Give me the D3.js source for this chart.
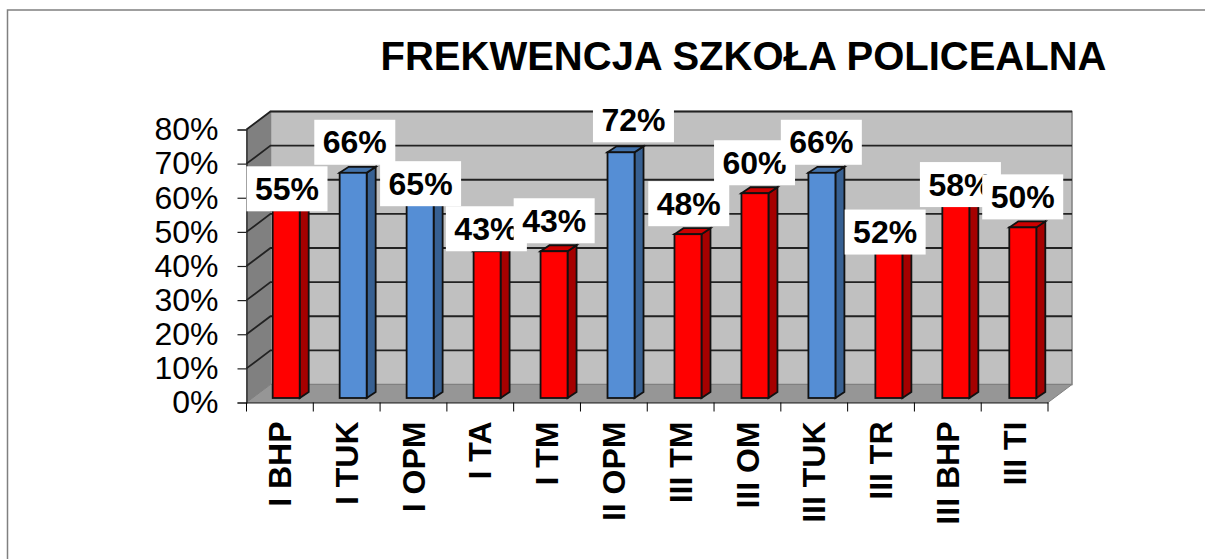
<!DOCTYPE html>
<html>
<head>
<meta charset="utf-8">
<script src="https://cdn.jsdelivr.net/npm/d3@7"></script>
<style>
  html, body { margin: 0; padding: 0; background: #fff; }
  svg { display: block; }
  text { font-family: "Liberation Sans", Arial, sans-serif; fill: #000; }
</style>
</head>
<body>
<div id="chart"></div>
<script>
// data
const categories = ["I BHP", "I TUK", "I OPM", "I TA", "I TM", "II OPM", "III TM", "III OM", "III TUK", "III TR", "III BHP", "III TI"];
const values = [55, 66, 65, 43, 43, 72, 48, 60, 66, 52, 58, 50];
const groups = ["r", "b", "b", "r", "r", "b", "r", "r", "b", "r", "r", "r"];
const yTicks = [0, 10, 20, 30, 40, 50, 60, 70, 80];
const titleText = "FREKWENCJA SZKOŁA POLICEALNA";

// labels were dragged by hand in the original, so each has its own nudge
const labelNudgeX = [0, 1, 0, -1, 0, 12.5, 1, 0, 0, -3, 5.5, 1];
const labelNudgeY = [-44, -53, -15, -45, -53, -55, -53, -53, -53, -11, -38, -53];

const width = 1205, height = 559;
const margin = {top: 129.5, left: 246.5, right: 157, bottom: 156.5};
const plotW = width - margin.left - margin.right;
const plotH = height - margin.top - margin.bottom;
const depthX = 24, depthY = -18;     // floor/wall depth
const barW = 27, barDX = 9, barDY = -6, barLift = 4.5;

const svg = d3.select("#chart").append("svg")
    .attr("width", width)
    .attr("height", height);

// outer frame, only left and top edges are in the picture
svg.append("path")
    .attr("d", "M7.5,559V10H1205")
    .attr("fill", "none")
    .attr("stroke", "#808080")
    .attr("stroke-width", 1.5);

svg.append("text")
    .attr("x", 743.5)
    .attr("y", 70)
    .attr("text-anchor", "middle")
    .style("font-size", "40px")
    .style("font-weight", "bold")
    .text(titleText);

const g = svg.append("g")
    .attr("transform", "translate(" + margin.left + "," + margin.top + ")");

const x = d3.scaleBand().domain(categories).range([0, plotW]);
const y = d3.scaleLinear().domain([0, 80]).range([plotH, 0]);
// bars drift slightly against the ticks in the original, so they get their own scale
const xBar = d3.scalePoint().domain(categories).range([26.2, 762.8]);

// back wall
g.append("rect")
    .attr("x", depthX).attr("y", depthY)
    .attr("width", plotW).attr("height", plotH)
    .attr("fill", "#c0c0c0")
    .attr("stroke", "#808080")
    .attr("stroke-width", 1.5);

// side wall
g.append("path")
    .attr("d", d3.line()([[0, 0], [depthX, depthY], [depthX, plotH + depthY], [0, plotH]]) + "Z")
    .attr("fill", "#808080")
    .attr("stroke", "#808080");

// floor
g.append("path")
    .attr("d", d3.line()([[0, plotH], [depthX, plotH + depthY], [plotW + depthX, plotH + depthY], [plotW, plotH]]) + "Z")
    .attr("fill", "#969696")
    .attr("stroke", "#808080");

// gridlines, wall part and side part
yTicks.slice(1).forEach(function(t) {
  g.append("path")
      .attr("d", d3.line()([[0, y(t)], [depthX, y(t) + depthY], [plotW + depthX, y(t) + depthY]]))
      .attr("fill", "none")
      .attr("stroke", "#222")
      .attr("stroke-width", 1.8);
});

// axes
const yAxis = g.append("g")
    .call(d3.axisLeft(y).tickValues(yTicks).tickFormat(d => d + "%").tickSize(9).tickPadding(19));
yAxis.selectAll("text").style("font-size", "32px");

const xAxis = g.append("g")
    .attr("transform", "translate(0," + plotH + ")")
    .call(d3.axisBottom(x).tickSize(0).tickPadding(19));
xAxis.selectAll("text")
    .style("font-size", "32px")
    .style("font-weight", "bold")
    .attr("text-anchor", "end")
    .attr("transform", "rotate(-90)")
    .attr("x", -19)
    .attr("y", 0)
    .attr("dy", "0.35em");

// ticks sit on the band edges here, not on the band centres
xAxis.selectAll("line.edge")
    .data(categories.concat(["end"]))
    .join("line")
    .attr("class", "edge")
    .attr("x1", (d, i) => i * x.step())
    .attr("x2", (d, i) => i * x.step())
    .attr("y1", 0)
    .attr("y2", 9)
    .attr("stroke", "#000");

g.selectAll("path.domain, .tick line").attr("stroke", "#222").attr("stroke-width", 1.2);

const colors = {
  r: {front: "#ff0000", side: "#a50000", top: "#cc0000"},
  b: {front: "#558ed5", side: "#376092", top: "#4372aa"}
};

// bars: side and top faces drawn first, front on top
const bars = g.append("g").selectAll("g")
    .data(categories)
    .join("g")
    .attr("transform", d => "translate(" + xBar(d) + ",0)");

const base = plotH - barLift;
const barTop = i => base - (plotH - y(values[i]));

bars.append("path")
    .attr("d", (d, i) => d3.line()([[barW, barTop(i)], [barW + barDX, barTop(i) + barDY], [barW + barDX, base + barDY], [barW, base]]) + "Z")
    .attr("fill", (d, i) => colors[groups[i]].side)
    .attr("stroke", "#111")
    .attr("stroke-width", 1.8);

bars.append("path")
    .attr("d", (d, i) => d3.line()([[0, barTop(i)], [barDX, barTop(i) + barDY], [barW + barDX, barTop(i) + barDY], [barW, barTop(i)]]) + "Z")
    .attr("fill", (d, i) => colors[groups[i]].top)
    .attr("stroke", "#111")
    .attr("stroke-width", 1.8);

bars.append("rect")
    .attr("x", 0)
    .attr("y", (d, i) => barTop(i))
    .attr("width", barW)
    .attr("height", (d, i) => base - barTop(i))
    .attr("fill", (d, i) => colors[groups[i]].front)
    .attr("stroke", "#111")
    .attr("stroke-width", 1.8);

// data labels on white boxes
const labels = g.append("g").selectAll("g")
    .data(categories)
    .join("g")
    .attr("transform", (d, i) => "translate(" + (x(d) + labelNudgeX[i]) + "," + (barTop(i) + labelNudgeY[i]) + ")");

labels.append("rect")
    .attr("width", 81)
    .attr("height", 45)
    .attr("fill", "#fff");

labels.append("text")
    .attr("x", 40.5)
    .attr("y", 33.5)
    .attr("text-anchor", "middle")
    .style("font-size", "32px")
    .style("font-weight", "bold")
    .text((d, i) => values[i] + "%");
</script>
</body>
</html>
